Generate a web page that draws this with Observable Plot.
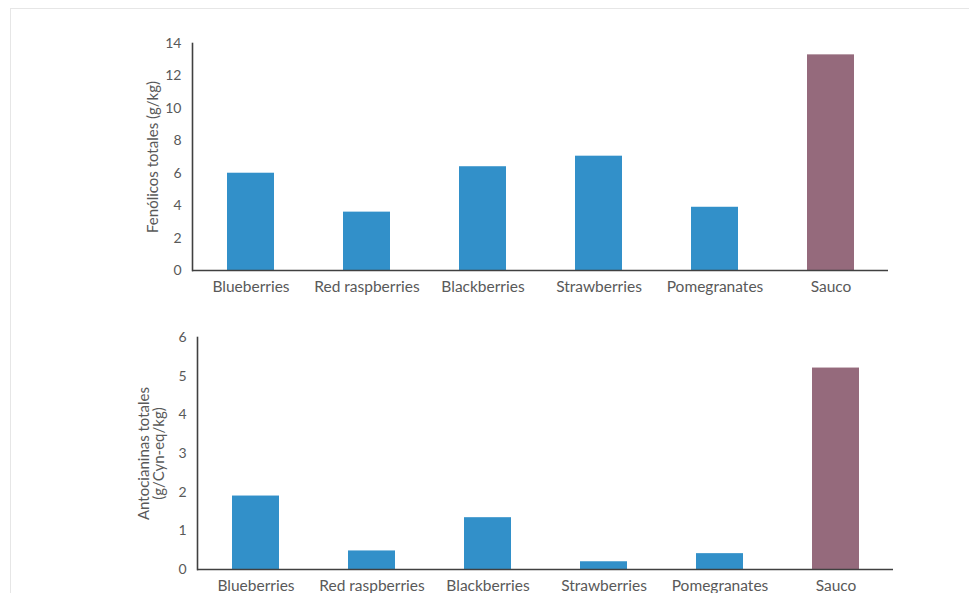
<!DOCTYPE html>
<html>
<head>
<meta charset="utf-8">
<script src="https://cdn.jsdelivr.net/npm/d3@7"></script>
<script src="https://cdn.jsdelivr.net/npm/@observablehq/plot@0.6"></script>
<style>
  html, body { margin: 0; padding: 0; background: #fff; overflow: hidden; }
  body { width: 969px; height: 593px; position: relative; font-family: Lato, "Open Sans", sans-serif; }
  #frame { position: absolute; left: 10px; top: 8px; width: 1000px; height: 700px; border: 1px solid #e6e6e6; box-sizing: border-box; }
  #top, #bottom { position: absolute; left: 0; }
  #top { top: 0; }
  #bottom { top: 300px; }
</style>
</head>
<body>
<div id="frame"></div>
<div id="top"></div>
<div id="bottom"></div>
<script>
const categories = ["Blueberries", "Red raspberries", "Blackberries", "Strawberries", "Pomegranates", "Sauco"];
const fenolicos = [6.0, 3.6, 6.4, 7.05, 3.9, 13.3];
const antocianinas = [1.9, 0.48, 1.34, 0.2, 0.41, 5.21];
const fenolicosTicks = [0, 2, 4, 6, 8, 10, 12, 14];
const antocianinasTicks = [0, 1, 2, 3, 4, 5, 6];
const fenolicosTitle = "Fenólicos totales (g/kg)";
const antocianinasTitle = "Antocianinas totales\n(g/Cyn-eq/kg)";

const BLUE = "#3290c9";
const MAUVE = "#956a7c";
const AXIS = "#404040";
const TEXT = "#595959";
const FONT = "Lato, 'Open Sans', sans-serif";

function chart({values, ticks, domain, title, titleDx, height, marginTop, marginBottom, marginLeft, marginRight}) {
  const data = categories.map((c, i) => ({cat: c, v: values[i]}));
  return Plot.plot({
    width: 969,
    height,
    marginTop, marginBottom, marginLeft, marginRight,
    style: {fontFamily: FONT, background: "transparent", overflow: "visible"},
    x: {domain: categories, paddingInner: 0.595, paddingOuter: 0.2975},
    y: {domain},
    marks: [
      Plot.barY(data, {x: "cat", y: "v", fill: d => d.cat === "Sauco" ? MAUVE : BLUE}),
      Plot.ruleY([0], {stroke: AXIS, strokeWidth: 1.6}),
      Plot.frame({anchor: "left", stroke: AXIS, strokeWidth: 1.6}),
      Plot.axisY({ticks, tickSize: 0, tickPadding: 11, tickFormat: d => String(d), label: null, fontSize: 14, fill: TEXT}),
      Plot.axisX({tickSize: 0, tickPadding: 10, label: null, fontSize: 15.5, fill: TEXT}),
      Plot.text([title], {text: d => d, frameAnchor: "left", dx: titleDx, rotate: -90, textAnchor: "middle", lineAnchor: "middle", fontSize: 15, lineHeight: 1.05, fill: TEXT})
    ]
  });
}

document.getElementById("top").append(chart({
  values: fenolicos, ticks: fenolicosTicks, domain: [0, 14], title: fenolicosTitle, titleDx: -40,
  height: 300, marginTop: 43, marginBottom: 30, marginLeft: 192, marginRight: 81
}));

document.getElementById("bottom").append(chart({
  values: antocianinas, ticks: antocianinasTicks, domain: [0, 6], title: antocianinasTitle, titleDx: -46,
  height: 293, marginTop: 37, marginBottom: 24, marginLeft: 197, marginRight: 76
}));
</script>
</body>
</html>
